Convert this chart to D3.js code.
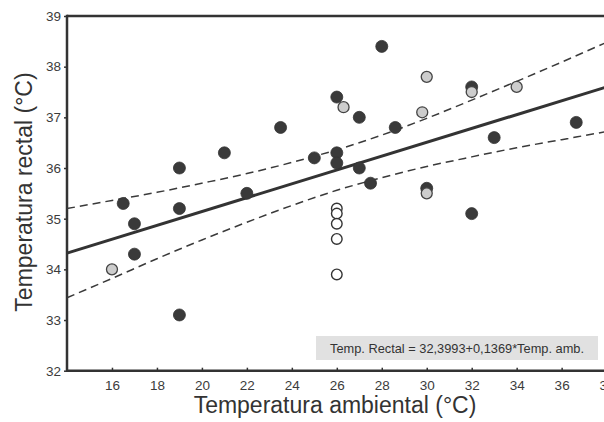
<!DOCTYPE html>
<html>
<head>
<meta charset="utf-8">
<script src="https://cdn.jsdelivr.net/npm/d3@7"></script>
<style>
  html, body { margin: 0; padding: 0; background: #ffffff; }
  svg { display: block; font-family: "Liberation Sans", Arial, sans-serif; }
</style>
</head>
<body>
<svg id="chart" width="604" height="422"></svg>
<script>
// ---- data ----
const xTicks = [16, 18, 20, 22, 24, 26, 28, 30, 32, 34, 36, 38];
const yTicks = [32, 33, 34, 35, 36, 37, 38, 39];

// dark filled points
const darkX = [16.5, 17, 17, 19, 19, 19, 21, 22, 23.5, 25, 26, 26, 26, 27, 27, 27.5, 28, 28.6, 30, 32, 32, 33, 36.65];
const darkY = [35.3, 34.9, 34.3, 36.0, 35.2, 33.1, 36.3, 35.5, 36.8, 36.2, 37.4, 36.3, 36.1, 37.0, 36.0, 35.7, 38.4, 36.8, 35.6, 37.6, 35.1, 36.6, 36.9];
// light grey points
const greyX = [16, 26.3, 29.8, 30, 30, 32, 34];
const greyY = [34.0, 37.2, 37.1, 37.8, 35.5, 37.5, 37.6];
// open points
const openX = [26, 26, 26, 26, 26];
const openY = [35.2, 35.1, 34.9, 34.6, 33.9];

// regression line end points
const fitX = [14, 38];
const fitY = [34.32, 37.60];
// confidence band (read)
const bandX = [14, 16, 18, 20, 22, 24, 26, 28, 30, 32, 34, 36, 38];
const bandUpper = [35.20, 35.36, 35.52, 35.70, 35.89, 36.11, 36.36, 36.65, 36.98, 37.34, 37.71, 38.09, 38.48];
const bandLower = [33.44, 33.82, 34.21, 34.58, 34.93, 35.26, 35.56, 35.81, 36.03, 36.22, 36.40, 36.56, 36.72];

const xTitle = "Temperatura ambiental (°C)";
const yTitle = "Temperatura rectal (°C)";
const eqText = "Temp. Rectal = 32,3993+0,1369*Temp. amb.";

// ---- drawing ----
const svg = d3.select("#chart");
const x = d3.scaleLinear().domain([14, 38]).range([67, 606.6]);
const y = d3.scaleLinear().domain([32, 39]).range([370.7, 16]);
const axisColor = "#333333";
const labelColor = "#3c3c3c";

// y axis ticks
const gy = svg.append("g").attr("transform", `translate(${x(14)},0)`)
  .call(d3.axisLeft(y).tickValues(yTicks).tickSize(3).tickPadding(3).tickFormat(d3.format("d")));
gy.select(".domain").remove();
gy.selectAll(".tick line").attr("stroke", axisColor).attr("stroke-width", 1.5);
gy.selectAll(".tick text").attr("fill", labelColor).style("font-size", "13.5px")
  .style("font-family", "'Liberation Sans', Arial, sans-serif");

// x axis ticks
const gx = svg.append("g").attr("transform", `translate(0,${y(32)})`)
  .call(d3.axisBottom(x).tickValues(xTicks).tickSize(-3).tickPadding(10).tickFormat(d3.format("d")));
gx.select(".domain").remove();
gx.selectAll(".tick line").attr("stroke", axisColor).attr("stroke-width", 1.5);
gx.selectAll(".tick text").attr("fill", labelColor).style("font-size", "13.5px")
  .style("font-family", "'Liberation Sans', Arial, sans-serif");

// frame
const x0 = x(14), yTop = y(39), yBot = y(32);
svg.append("line").attr("x1", x0).attr("x2", 604).attr("y1", yTop).attr("y2", yTop)
  .attr("stroke", axisColor).attr("stroke-width", 2.5);
svg.append("line").attr("x1", x0).attr("x2", 604).attr("y1", yBot).attr("y2", yBot)
  .attr("stroke", axisColor).attr("stroke-width", 2.5);
svg.append("line").attr("x1", x0).attr("x2", x0).attr("y1", yTop - 1.2).attr("y2", yBot + 1.2)
  .attr("stroke", axisColor).attr("stroke-width", 2.5);

// equation box
svg.append("rect").attr("x", 316).attr("y", 336).attr("width", 282).attr("height", 24)
  .attr("fill", "#e1e1e1");
svg.append("text").attr("x", 330).attr("y", 352.5).attr("fill", "#333")
  .style("font-size", "12.8px").text(eqText);

// bands
const bandLine = (arr) => d3.line().curve(d3.curveMonotoneX)
  .x((d, i) => x(bandX[i])).y((d) => y(d))(arr);
[bandUpper, bandLower].forEach(arr => {
  svg.append("path").attr("d", bandLine(arr)).attr("fill", "none")
    .attr("stroke", "#3a3a3a").attr("stroke-width", 1.5).attr("stroke-dasharray", "8,5");
});

// regression line
svg.append("path")
  .attr("d", d3.line().x((d, i) => x(fitX[i])).y(d => y(d))(fitY))
  .attr("fill", "none").attr("stroke", "#333").attr("stroke-width", 3);

// points
svg.append("g").selectAll("circle").data(darkX).join("circle")
  .attr("cx", d => x(d)).attr("cy", (d, i) => y(darkY[i])).attr("r", 6)
  .attr("fill", "#3a3a3a").attr("stroke", "#333").attr("stroke-width", 0.8);
svg.append("g").selectAll("circle").data(greyX).join("circle")
  .attr("cx", d => x(d)).attr("cy", (d, i) => y(greyY[i])).attr("r", 5.5)
  .attr("fill", "#cdcdcd").attr("stroke", "#444").attr("stroke-width", 1.3);
svg.append("g").selectAll("circle").data(openX).join("circle")
  .attr("cx", d => x(d)).attr("cy", (d, i) => y(openY[i])).attr("r", 5.3)
  .attr("fill", "#ffffff").attr("stroke", "#333").attr("stroke-width", 1.4);

// titles
svg.append("text").attr("x", 335).attr("y", 413).attr("text-anchor", "middle")
  .attr("fill", "#333").style("font-size", "23px").text(xTitle);
svg.append("text").attr("transform", "translate(32,192) rotate(-90)").attr("text-anchor", "middle")
  .attr("fill", "#333").style("font-size", "23px").text(yTitle);
</script>
</body>
</html>
